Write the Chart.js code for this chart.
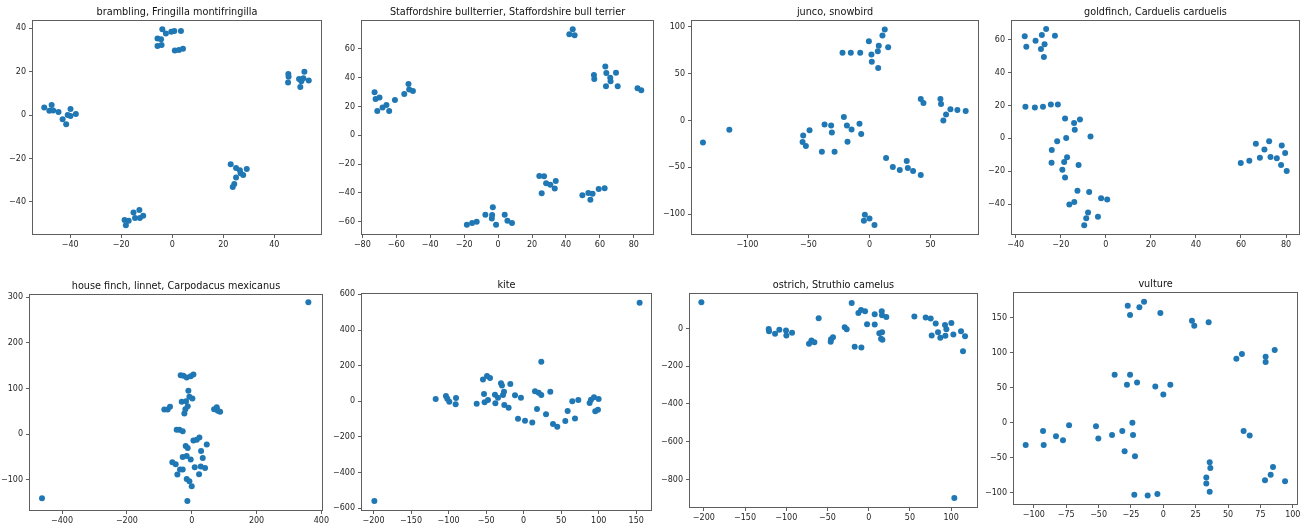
<!DOCTYPE html>
<html>
<head>
<meta charset="utf-8">
<script src="https://cdn.jsdelivr.net/npm/chart.js@4/dist/chart.umd.min.js"></script>
<style>
html,body{margin:0;padding:0;background:#fff;}
#wrap{position:relative;width:1302px;height:525px;overflow:hidden;background:#fff;}
.cell{position:absolute;overflow:hidden;}
canvas{display:block;}
</style>
</head>
<body>
<div id="wrap"></div>
<script>
// ---------- titles ----------
const titles = [
  "brambling, Fringilla montifringilla",
  "Staffordshire bullterrier, Staffordshire bull terrier",
  "junco, snowbird",
  "goldfinch, Carduelis carduelis",
  "house finch, linnet, Carpodacus mexicanus",
  "kite",
  "ostrich, Struthio camelus",
  "vulture"
];

// ---------- series ----------
const bramblingX = [-50.2,-48.2,-47.3,-46.7,-44.6,-43.0,-41.6,-41.0,-39.9,-39.9,-37.8,-3.9,-2.5,-0.4,0.8,3.4,-5.8,-4.4,-5.8,-4.2,1.0,2.6,4.2,45.5,45.6,45.4,49.7,50.2,50.6,51.4,51.8,53.5,22.9,25.0,26.5,26.8,27.8,29.2,25.0,24.3,23.7,-18.7,-17.1,-18.2,-15.2,-14.6,-12.9,-12.7,-11.4];
const bramblingY = [3.4,2.0,4.6,2.1,1.4,-2.0,-4.3,0.0,2.8,-0.5,0.5,39.5,37.5,38.3,38.6,38.6,35.2,34.8,31.7,32.2,29.7,29.9,30.5,18.9,17.6,15.0,16.6,12.9,15.5,16.9,19.9,15.9,-22.7,-24.4,-25.4,-26.8,-27.6,-24.8,-28.8,-31.7,-33.1,-48.3,-48.6,-50.7,-44.9,-47.4,-43.7,-47.4,-46.4];

const staffordX = [-72.8,-72.2,-69.9,-71.2,-68.1,-65.8,-64.2,-60.8,-55.3,-52.8,-52.4,-50.2,42.0,44.0,45.1,56.5,56.7,63.2,63.8,66.1,66.3,69.5,63.6,70.5,82.2,84.4,24.3,27.1,28.3,30.8,34.0,33.4,25.7,49.7,53.2,55.7,54.4,59.3,62.8,-18.4,-15.3,-12.6,-7.5,-3.5,-3.1,-3.7,-1.2,3.9,5.5,8.2];
const staffordY = [29.9,25.1,26.2,16.8,19.3,21.1,16.8,24.4,28.7,35.6,31.7,30.8,70.1,73.6,69.4,41.8,39.1,47.8,43.2,40.0,37.5,43.4,34.0,34.0,32.6,31.3,-28.3,-28.5,-33.3,-34.3,-31.7,-37.0,-40.2,-41.6,-40.0,-40.5,-44.8,-37.2,-36.8,-62.1,-60.9,-60.0,-55.2,-55.4,-49.9,-57.7,-62.1,-55.2,-59.3,-60.9];

const juncoX = [-136.4,-114.8,-54.3,-54.8,-52.1,-49.1,-39.0,-36.8,-31.4,-30.8,-28.6,-21.0,-18.5,-18.0,-14.7,-8.2,-6.8,-22.1,-15.3,-7.6,-0.5,1.6,1.9,7.1,6.8,7.6,10.6,12.5,15.3,42.0,44.2,58.1,58.6,66.3,72.0,78.8,62.7,60.5,13.6,19.1,24.8,30.5,31.4,35.7,42.0,-3.8,-4.6,0.0,4.1];
const juncoY = [-23.4,-9.9,-16.0,-23.0,-27.3,-10.3,-33.3,-4.3,-5.3,-12.8,-33.3,3.9,-5.3,-22.7,-9.6,-3.5,-14.5,72.3,72.3,72.3,84.8,70.6,62.8,56.0,74.1,79.8,90.8,97.2,78.4,23.0,18.8,23.0,17.7,12.1,11.3,10.3,6.4,0.0,-40.1,-49.6,-52.8,-43.3,-50.7,-53.9,-58.2,-100.7,-107.1,-104.6,-111.7];

const goldfinchX = [-36.0,-35.3,-31.2,-28.4,-26.5,-22.6,-28.8,-27.2,-27.5,-35.7,-31.5,-27.9,-24.4,-21.3,-18.1,-14.1,-11.5,-13.8,-6.8,-17.6,-21.6,-24.0,-17.2,-18.5,-24.1,-12.1,-19.3,-18.1,-12.6,-7.4,-2.1,0.6,-14.0,-16.2,-7.9,-8.7,-9.6,-3.5,59.9,63.7,66.6,68.4,70.4,72.5,73.1,75.9,78.1,79.6,77.8,80.3];
const goldfinchY = [62.1,55.7,59.3,62.8,66.4,62.3,54.3,57.1,49.4,19.2,18.8,19.2,20.6,20.6,12.1,9.3,11.5,5.3,1.2,0.2,-1.8,-7.1,-11.5,-14.4,-14.8,-16.2,-19.0,-23.7,-31.8,-32.6,-36.4,-37.2,-38.7,-40.1,-45.1,-48.6,-52.8,-47.6,-15.0,-13.6,-3.2,-11.7,-6.7,-1.8,-11.3,-12.1,-4.3,-8.9,-16.2,-19.8];

const houseFinchX = [359.8,-461.9,-34.0,-25.8,-15.5,-3.1,5.2,-10.3,-7.2,2.1,-30.9,-17.5,-12.4,-19.6,-22.7,-84.5,-74.2,-67.0,69.1,77.3,80.4,87.6,-46.4,-38.1,-27.8,5.2,15.5,23.7,46.4,-18.6,-12.4,28.9,34.0,-27.8,-15.5,-3.1,-59.8,-49.5,-36.1,-27.8,-44.3,9.3,27.8,41.2,22.7,-15.5,-7.2,0.0,-13.4];
const houseFinchY = [288.8,-140.4,129.4,128.0,124.3,127.2,130.9,95.1,81.9,78.2,70.9,72.4,61.4,54.8,45.3,54.1,54.1,60.0,54.8,59.2,51.2,49.0,9.5,9.5,6.6,-13.9,-12.4,-7.3,-22.7,-25.6,-30.0,-36.6,-51.9,-49.7,-47.5,-55.6,-61.4,-65.8,-77.5,-77.5,-88.5,-72.4,-70.9,-73.9,-87.8,-98.0,-103.1,-114.1,-146.3];

const kiteX = [154.5,-198.9,-117.2,-103.5,-101.7,-99.0,-90.1,-90.6,-62.6,-54.2,-48.8,-44.8,-52.8,-52.0,-47.5,-38.2,-37.7,-34.2,-30.2,-28.9,-27.5,-26.2,-25.8,-20.0,-17.8,-11.5,-3.6,-7.5,1.8,11.5,15.1,20.0,23.5,23.5,17.8,29.8,35.5,39.1,44.8,55.5,58.6,64.8,68.4,72.8,87.9,89.7,93.7,95.4,99.0,99.9];
const kiteY = [553,-559,13.1,30.0,15.0,-1.9,18.8,-16.9,-13.1,121.9,142.5,131.3,41.3,-5.6,7.5,37.5,-11.3,20.6,101.3,88.1,35.6,54.4,-20.6,-35.6,97.5,33.8,20.6,-97.5,-108.8,-118.1,56.3,48.8,221.3,35.6,-43.1,-73.1,54.4,-127.5,-142.5,-110.6,-54.4,0,-95.6,7.5,-9.4,9.4,22.5,-56.3,-46.9,13.1];

const ostrichX = [-203,103.9,-121.3,-120.9,-113.6,-108.4,-100.3,-99.9,-93.0,-72.4,-69.5,-65.9,-60.7,-46.1,-45.7,-43.3,-29.1,-26.7,-20.6,-17.0,-12.5,-9.3,-4.4,-8.9,-2.0,7.3,7.3,12.9,15.8,16.2,16.2,21.4,15.0,16.6,55.4,69.1,75.2,76.4,81.3,84.1,86.9,92.6,93.0,94.2,100.3,102.7,112.0,116.9,114.4];
const ostrichY = [139.2,-898.7,-1.8,-14.1,-28.2,-7.0,-10.6,-37.0,-22.9,-81.1,-63.4,-72.2,54.6,-70.5,-56.4,-45.8,7.0,-3.5,135.7,-96.9,82.8,98.7,91.6,-100.4,22.9,75.8,21.1,-24.7,91.6,70.5,-19.4,61.7,-54.6,-59.9,63.4,58.1,52.9,-37.0,26.4,-19.4,-49.3,19.4,-38.8,-3.5,30.0,-31.7,-14.1,-40.5,-119.8];

const vultureX = [-106.3,-92.9,-92.4,-82.9,-77.5,-72.8,-52.0,-50.2,-39.6,-31.7,-29.9,-23.9,-23.4,-21.9,-37.6,-28.1,-25.7,-20.3,-6.2,0.0,5.4,-27.5,-25.7,-18.5,-14.9,-2.3,22.1,23.9,35.0,56.4,60.7,79.0,79.0,86.0,62.0,66.7,35.8,36.3,33.2,33.2,35.8,-22.4,-12.1,-4.6,78.5,82.9,84.7,94.0];
const vultureY = [-31.5,-11.5,-31.5,-19.1,-24.8,-3.3,-4.8,-22.4,-17.2,-11.5,-40.6,0.0,-17.2,-47.7,68.7,54.4,68.7,57.7,52.0,40.6,54.4,167.5,154.1,165.1,173.2,157.0,146.0,138.8,143.6,91.6,98.3,94.5,86.8,104.0,-11.5,-18.1,-56.3,-64.4,-78.2,-86.8,-98.3,-102.6,-104.0,-101.6,-82.1,-74.0,-63.0,-83.5];

// ---------- axis limits and tick labels ----------
const xLimits = [[-55,58.7],[-80.8,91.9],[-146.2,89.7],[-42.1,86.2],[-502,405],[-216.7,171],[-218,132.6],[-116.1,104.0]];
const yLimits = [[-55.2,43.7],[-69.2,80.0],[-122.3,107.4],[-58.7,71.9],[-168.2,307.1],[-615,607.5],[-951.5,188.5],[-117.4,187.0]];
const xTickValues = [
  [-40,-20,0,20,40],
  [-80,-60,-40,-20,0,20,40,60,80],
  [-100,-50,0,50],
  [-40,-20,0,20,40,60,80],
  [-400,-200,0,200,400],
  [-200,-150,-100,-50,0,50,100,150],
  [-200,-150,-100,-50,0,50,100],
  [-100,-75,-50,-25,0,25,50,75,100]
];
const yTickValues = [
  [-40,-20,0,20,40],
  [-60,-40,-20,0,20,40,60],
  [-100,-50,0,50,100],
  [-40,-20,0,20,40,60],
  [-100,0,100,200,300],
  [-600,-400,-200,0,200,400,600],
  [-800,-600,-400,-200,0],
  [-100,-50,0,50,100,150]
];

const seriesX = [bramblingX, staffordX, juncoX, goldfinchX, houseFinchX, kiteX, ostrichX, vultureX];
const seriesY = [bramblingY, staffordY, juncoY, goldfinchY, houseFinchY, kiteY, ostrichY, vultureY];

// ---------- layout (plot area boxes, px) ----------
const boxes = [
  [32,20,322,235],[361,20,654,235],[691,20,979,235],[1011,20,1300,235],
  [29,294,323,511],[361,293,652,511],[689,293,978,508],[1013,292,1298,505]
];
const clipRight = [null,null,null,null,329,null,null,null];

const PL = 45, PT = 30, PR = 22, PB = 28;
const FONT = '"DejaVu Sans", "Liberation Sans", sans-serif';
const fmt = v => v < 0 ? '\u2212' + Math.abs(v) : String(v);

const framePlugin = {
  id: 'frameAndTitle',
  afterDraw(chart, args, opts) {
    const {ctx, chartArea: a} = chart;
    ctx.save();
    ctx.strokeStyle = '#5e5e5e';
    ctx.lineWidth = 1;
    ctx.strokeRect(a.left + 0.5, a.top + 0.5, a.right - a.left - 1, a.bottom - a.top - 1);
    ctx.fillStyle = '#111';
    ctx.font = '9.7px ' + FONT;
    ctx.textAlign = 'center';
    ctx.textBaseline = 'alphabetic';
    ctx.fillText(opts.text, (a.left + a.right) / 2, a.top - 5);
    ctx.restore();
  }
};

const wrap = document.getElementById('wrap');
boxes.forEach((b, i) => {
  const [L, T, R, B] = b;
  const cl = L - PL, ct = T - PT;
  const w = R - L + PL + PR, h = B - T + PT + PB;
  const cell = document.createElement('div');
  cell.className = 'cell';
  cell.style.left = cl + 'px';
  cell.style.top = ct + 'px';
  cell.style.width = (clipRight[i] ? clipRight[i] - cl : w) + 'px';
  cell.style.height = h + 'px';
  const cv = document.createElement('canvas');
  cv.width = w; cv.height = h;
  cv.style.width = w + 'px'; cv.style.height = h + 'px';
  cell.appendChild(cv);
  wrap.appendChild(cell);

  const xs = seriesX[i], ys = seriesY[i];
  const xt = xTickValues[i], yt = yTickValues[i];
  const tickFont = {family: FONT, size: 8};
  const gridCfg = {display: true, drawOnChartArea: false, drawTicks: true, tickLength: 3, tickWidth: 1, tickColor: '#5e5e5e'};

  new Chart(cv, {
    type: 'scatter',
    data: {
      datasets: [{
        data: xs.map((x, k) => ({x: x, y: ys[k]})),
        backgroundColor: '#1f77b4',
        borderWidth: 0,
        pointRadius: 3,
        pointHoverRadius: 3
      }]
    },
    options: {
      responsive: false,
      animation: false,
      events: [],
      layout: {padding: {top: PT, right: PR, left: 0, bottom: 0}},
      plugins: {
        legend: {display: false},
        tooltip: {enabled: false},
        title: {display: false},
        frameAndTitle: {text: titles[i]}
      },
      scales: {
        x: {
          type: 'linear',
          min: xLimits[i][0], max: xLimits[i][1],
          afterFit: s => { s.height = PB; },
          afterBuildTicks: s => { s.ticks = xt.map(v => ({value: v})); },
          grid: gridCfg,
          border: {display: false},
          ticks: {font: tickFont, color: '#1e1e1e', padding: 2, maxRotation: 0, autoSkip: false, callback: v => fmt(v)}
        },
        y: {
          type: 'linear',
          min: yLimits[i][0], max: yLimits[i][1],
          afterFit: s => { s.width = PL; },
          afterBuildTicks: s => { s.ticks = yt.map(v => ({value: v})); },
          grid: gridCfg,
          border: {display: false},
          ticks: {font: tickFont, color: '#1e1e1e', padding: 3, autoSkip: false, callback: v => fmt(v)}
        }
      }
    },
    plugins: [framePlugin]
  });
});
</script>
</body>
</html>
